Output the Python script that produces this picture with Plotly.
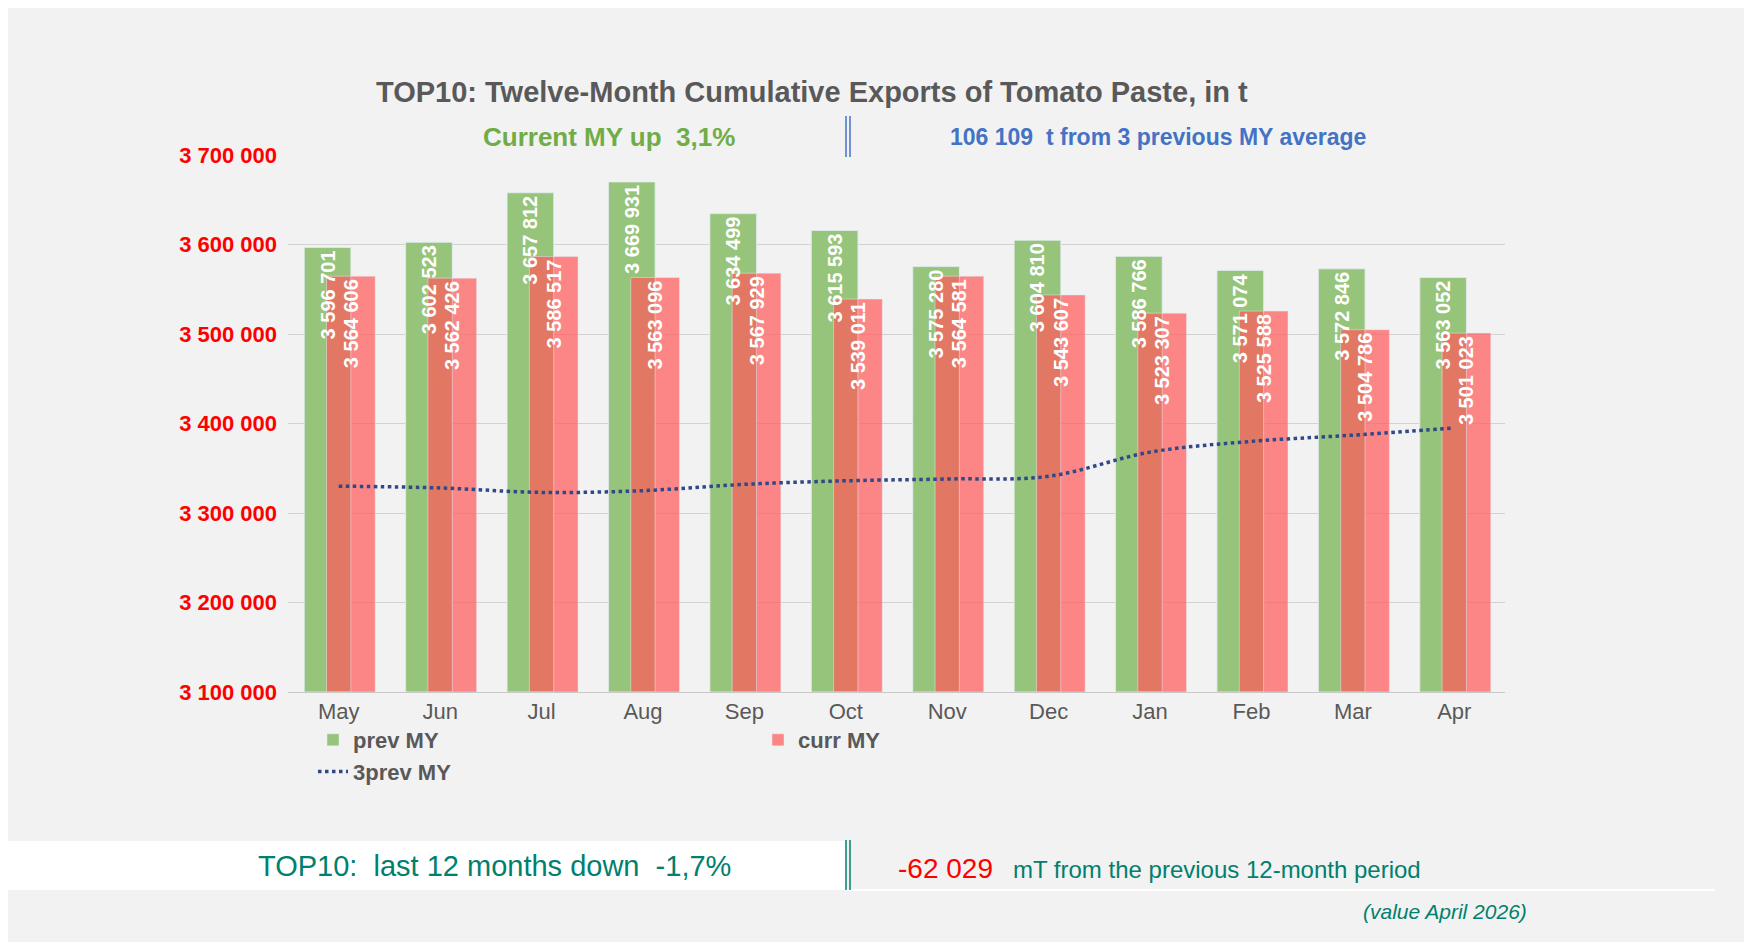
import plotly.graph_objects as go

months = ["May", "Jun", "Jul", "Aug", "Sep", "Oct", "Nov", "Dec", "Jan", "Feb", "Mar", "Apr"]
prev_my = [3596701, 3602523, 3657812, 3669931, 3634499, 3615593, 3575280, 3604810, 3586766, 3571074, 3572846, 3563052]
curr_my = [3564606, 3562426, 3586517, 3563096, 3567929, 3539011, 3564581, 3543607, 3523307, 3525588, 3504786, 3501023]
prev3_my = [3330000, 3328000, 3323000, 3325000, 3332000, 3336000, 3338000, 3341000, 3368000, 3380000, 3387000, 3395000]
ytick_vals = [3100000, 3200000, 3300000, 3400000, 3500000, 3600000, 3700000]

def sp(v):
    return f"{v:,}".replace(",", " ")

# plot area in pixels
L, R, T, B = 280, 1497, 147, 684
def px(x):
    return (x - L) / (R - L)
def py(y):
    return (B - y) / (B - T)

lblfont = dict(color="white", size=20, family="Arial, Liberation Sans", weight="bold")

fig = go.Figure()
fig.add_trace(go.Bar(
    x=months, y=[v - 3100000 for v in prev_my], base=3100000,
    name="prev MY", marker_color="rgb(150,196,122)",
    width=0.46, offset=-0.34,
))
fig.add_trace(go.Bar(
    x=months, y=[v - 3100000 for v in curr_my], base=3100000,
    name="curr MY", marker_color="rgba(255,90,90,0.72)",
    width=0.48, offset=-0.12,
    text=[sp(v) for v in curr_my], textposition="inside", insidetextanchor="end",
    textangle=-90, textfont=lblfont,
))
# labels of prev MY drawn on top of the red bars
fig.add_trace(go.Bar(
    x=months, y=[v - 3100000 for v in prev_my], base=3100000,
    showlegend=False, hoverinfo="skip", marker_color="rgba(0,0,0,0)",
    width=0.46, offset=-0.34,
    text=[sp(v) for v in prev_my], textposition="inside", insidetextanchor="end",
    textangle=-90, textfont=lblfont,
))
fig.add_trace(go.Scatter(
    x=months, y=prev3_my, name="3prev MY", mode="lines",
    line=dict(color="rgb(47,72,136)", width=3.5, dash="dot", shape="spline"),
))

fig.update_layout(
    width=1752, height=942,
    paper_bgcolor="rgb(242,242,242)", plot_bgcolor="rgb(242,242,242)",
    margin=dict(l=L, r=1752 - R, t=T, b=942 - B),
    barmode="overlay", bargap=0.2,
    font=dict(family="Arial, Liberation Sans", color="rgb(89,89,89)"),
    legend=dict(orientation="h", x=px(305), y=py(748), yanchor="middle", xanchor="left",
                entrywidth=400, entrywidthmode="pixels", traceorder="normal",
                font=dict(size=22, color="rgb(89,89,89)", weight="bold"),
                bgcolor="rgba(0,0,0,0)"),
    xaxis=dict(tickfont=dict(size=22, color="rgb(89,89,89)"), showline=True,
               linecolor="rgb(200,200,200)", ticks=""),
    yaxis=dict(range=[3100000, 3700000], tickvals=ytick_vals,
               ticktext=[sp(v) for v in ytick_vals],
               tickfont=dict(size=22, color="red", weight="bold"),
               gridcolor="rgb(210,210,210)", zeroline=False, ticklabelstandoff=10),
)

shapes = [
    dict(type="rect", xref="paper", yref="paper", x0=px(0), x1=px(838), y0=py(833), y1=py(882),
         fillcolor="white", line_width=0, layer="below"),
    dict(type="line", xref="paper", yref="paper", x0=px(838), x1=px(1707), y0=py(882), y1=py(882),
         line=dict(color="white", width=2)),
]
for dx in (-2, 2):
    shapes.append(dict(type="line", xref="paper", yref="paper", x0=px(840 + dx), x1=px(840 + dx),
                       y0=py(108), y1=py(149), line=dict(color="rgb(68,114,196)", width=1.5)))
    shapes.append(dict(type="line", xref="paper", yref="paper", x0=px(840 + dx), x1=px(840 + dx),
                       y0=py(832), y1=py(882), line=dict(color="rgb(0,128,110)", width=1.5)))
fig.update_layout(shapes=shapes)

def ann(x, y, text, size, color, xanchor="center", bold=False, italic=False):
    if bold:
        text = f"<b>{text}</b>"
    if italic:
        text = f"<i>{text}</i>"
    fig.add_annotation(x=px(x), y=py(y), xref="paper", yref="paper", text=text, showarrow=False,
                       xanchor=xanchor, yanchor="middle", font=dict(size=size, color=color))

ann(804, 84, "TOP10: Twelve-Month Cumulative Exports of Tomato Paste, in t", 29, "rgb(89,89,89)", bold=True)
ann(601, 129, "Current MY up  3,1%", 26, "rgb(112,173,71)", bold=True)
ann(1150, 129, "106 109  t from 3 previous MY average", 23, "rgb(68,114,196)", bold=True)
ann(486, 858, "TOP10:  last 12 months down  -1,7%", 29, "rgb(0,128,110)")
ann(888, 860, "<span style='color:red;font-size:28px'>-62 029</span>   mT from the previous 12-month period",
    24, "rgb(0,128,110)", xanchor="left")
ann(1521, 903, "(value April 2026)", 21, "rgb(0,128,110)", xanchor="right", italic=True)

fig.write_html("out.html")
